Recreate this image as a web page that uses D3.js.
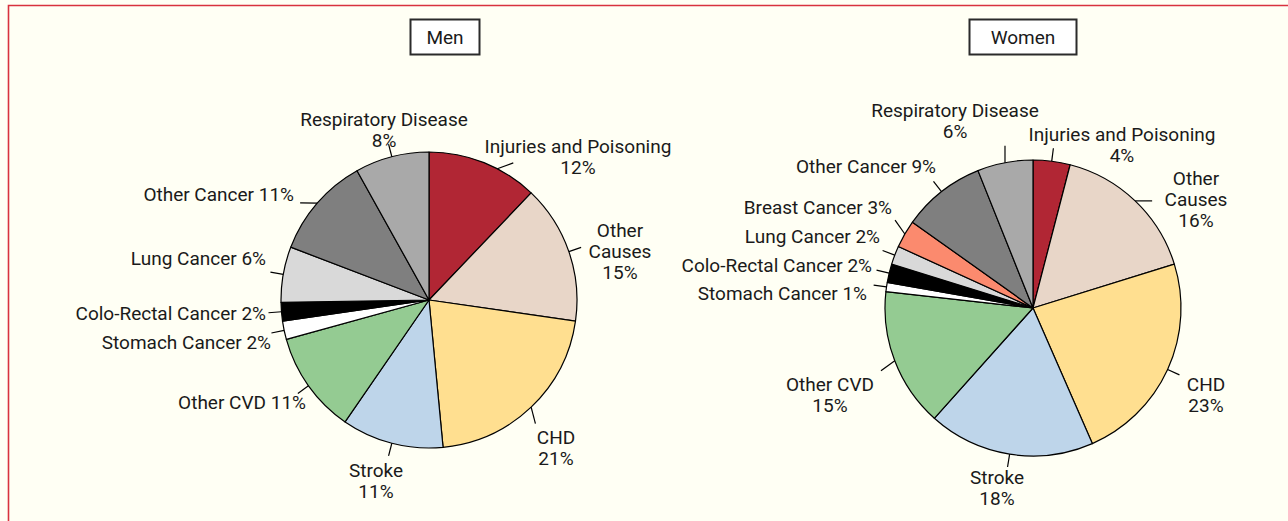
<!DOCTYPE html>
<html>
<head>
<meta charset="utf-8">
<script src="https://cdn.jsdelivr.net/npm/d3@7"></script>
<style>
  body { margin: 0; background: #fffff4; }
  svg text { font-family: Roboto, "Liberation Sans", sans-serif; font-size: 19px; fill: #1a1a1a; }
</style>
</head>
<body>
<script>
// causes of death, clockwise from 12 o'clock
var causes = ["Injuries and Poisoning", "Other Causes", "CHD", "Stroke", "Other CVD",
  "Stomach Cancer", "Colo-Rectal Cancer", "Lung Cancer", "Breast Cancer", "Other Cancer",
  "Respiratory Disease"];
var menPct = [12, 15, 21, 11, 11, 2, 2, 6, 0, 11, 8];
var womenPct = [4, 16, 23, 18, 15, 1, 2, 2, 3, 9, 6];
var titles = ["Men", "Women"];

var colors = ["#b12634", "#e8d6c8", "#ffdf90", "#bed5ea", "#94cb92",
  "#ffffff", "#000000", "#d9d9d9", "#fb8a6e", "#7f7f7f", "#a9a9a9"];

// label placement: [dx, dy of first line, anchor, lines, (tick position in slice, tick direction deg)]
var menLabels = {
  "Injuries and Poisoning": [149, -154, "middle", ["Injuries and Poisoning", "%"], 0.63, -20],
  "Other Causes": [191, -70, "middle", ["Other", "Causes", "%"]],
  "CHD": [127, 137, "middle", ["CHD", "%"]],
  "Stroke": [-53, 170, "middle", ["Stroke", "%"]],
  "Other CVD": [-123, 102, "end", ["Other CVD %"]],
  "Stomach Cancer": [-158, 42, "end", ["Stomach Cancer %"]],
  "Colo-Rectal Cancer": [-163, 13, "end", ["Colo-Rectal Cancer %"]],
  "Lung Cancer": [-163, -42, "end", ["Lung Cancer %"]],
  "Other Cancer": [-135, -106, "end", ["Other Cancer %"]],
  "Respiratory Disease": [-45, -181, "middle", ["Respiratory Disease", "%"]]
};
var womenLabels = {
  "Injuries and Poisoning": [89, -174, "middle", ["Injuries and Poisoning", "%"]],
  "Other Causes": [163, -130, "middle", ["Other", "Causes", "%"]],
  "CHD": [173, 76, "middle", ["CHD", "%"]],
  "Stroke": [-36, 169, "middle", ["Stroke", "%"]],
  "Other CVD": [-203, 76, "middle", ["Other CVD", "%"]],
  "Stomach Cancer": [-166, -15, "end", ["Stomach Cancer %"]],
  "Colo-Rectal Cancer": [-161, -43, "end", ["Colo-Rectal Cancer %"]],
  "Lung Cancer": [-153, -72, "end", ["Lung Cancer %"]],
  "Breast Cancer": [-141, -101, "end", ["Breast Cancer %"]],
  "Other Cancer": [-97, -142, "end", ["Other Cancer %"]],
  "Respiratory Disease": [-78, -198, "middle", ["Respiratory Disease", "%"]]
};

var width = 1288,
    height = 521,
    radius = 148,
    lineH = 21;

var svg = d3.select("body").append("svg")
    .attr("width", width)
    .attr("height", height);

// frame: red rule on left and top
svg.append("path")
    .attr("d", "M8.5," + height + "V5.5H" + width)
    .attr("fill", "none")
    .attr("stroke", "#d8323e")
    .attr("stroke-width", 1.6);

var pie = d3.pie().sort(null).value(function(d){ return d.value; });
var arc = d3.arc().innerRadius(0).outerRadius(radius);

var panels = [
  {title: titles[0], values: menPct, labels: menLabels, cx: 429, cy: 300, boxDx: 16, boxW: 69},
  {title: titles[1], values: womenPct, labels: womenLabels, cx: 1033, cy: 308, boxDx: -10, boxW: 107}
];

panels.forEach(function(p){
  var data = causes.map(function(c, i){ return {cause: c, value: p.values[i], color: colors[i]}; })
      .filter(function(d){ return d.value > 0; });
  var g = svg.append("g").attr("transform", "translate(" + p.cx + "," + p.cy + ")");

  // title box
  var tb = svg.append("g").attr("transform", "translate(" + (p.cx + p.boxDx) + ",37)");
  tb.append("rect")
      .attr("x", -p.boxW / 2).attr("y", -17.5)
      .attr("width", p.boxW).attr("height", 35)
      .attr("fill", "#ffffff").attr("stroke", "#2b2b2b").attr("stroke-width", 2);
  tb.append("text").attr("text-anchor", "middle").attr("dy", "0.36em").text(p.title);

  var arcs = pie(data);
  g.selectAll(".slice")
    .data(arcs)
    .enter()
    .append("path")
    .attr("class", "slice")
    .attr("d", arc)
    .attr("fill", function(d){ return d.data.color; })
    .attr("stroke", "#000")
    .attr("stroke-width", 1.2)
    .attr("stroke-linejoin", "round");

  arcs.forEach(function(a){
    var lab = p.labels[a.data.cause];
    var frac = lab[4] === undefined ? 0.5 : lab[4];
    var mid = a.startAngle + (a.endAngle - a.startAngle) * frac;
    var ux = Math.sin(mid), uy = -Math.cos(mid);
    var sx = ux * radius,
        sy = uy * radius;
    var t = g.append("text").attr("text-anchor", lab[2]);
    lab[3].forEach(function(line, k){
      t.append("tspan")
        .attr("x", lab[0])
        .attr("y", lab[1] + k * lineH)
        .attr("dy", "0.36em")
        .text(line.replace("%", a.data.value + "%"));
    });
    // leader tick towards nearest point of label box, radial when the label sits right over it
    var dx, dy, dist, len;
    if (lab[5] !== undefined) {
      dx = Math.cos(lab[5] * Math.PI / 180); dy = Math.sin(lab[5] * Math.PI / 180); dist = 1; len = 17;
    } else {
      var bb = t.node().getBBox();
      var px = Math.max(bb.x, Math.min(sx, bb.x + bb.width)),
          py = Math.max(bb.y + 3, Math.min(sy, bb.y + bb.height - 3));
      dx = px - sx; dy = py - sy; dist = Math.sqrt(dx * dx + dy * dy);
      if (dist < 22 || (dx * ux + dy * uy) < 0) { dx = ux; dy = uy; dist = 1; len = 13; }
      else { len = Math.min(17, dist - 3); }
    }
    g.append("line")
      .attr("x1", sx).attr("y1", sy)
      .attr("x2", sx + dx / dist * len).attr("y2", sy + dy / dist * len)
      .attr("stroke", "#000").attr("stroke-width", 1.2);
  });
});
</script>
</body>
</html>
